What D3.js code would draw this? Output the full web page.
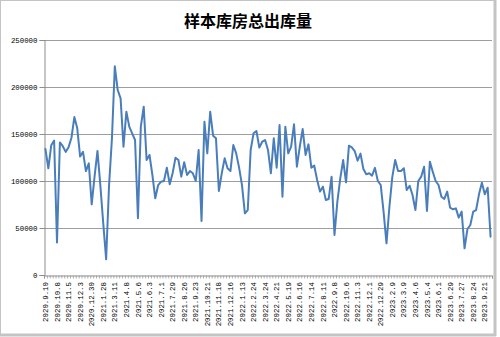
<!DOCTYPE html>
<html>
<head>
<meta charset="utf-8">
<script src="https://cdn.jsdelivr.net/npm/d3@7"></script>
<style>
  body { margin: 0; background: #fff; }
  svg { display: block; }
</style>
</head>
<body>
<svg id="chart" width="500" height="337"></svg>
<script>
// Weekly outbound volume of sample warehouses
const title = "样本库房总出库量";

// one label for every fourth weekly category
const tickLabels = [
  "2020.9.10", "2020.10.8", "2020.11.5", "2020.12.3", "2020.12.30", "2021.1.28",
  "2021.3.11", "2021.4.8", "2021.5.6", "2021.6.3", "2021.7.1", "2021.7.29",
  "2021.8.26", "2021.9.23", "2021.10.21", "2021.11.18", "2021.12.16", "2022.1.13",
  "2022.2.24", "2022.3.24", "2022.4.21", "2022.5.19", "2022.6.16", "2022.7.14",
  "2022.8.11", "2022.9.8", "2022.10.6", "2022.11.3", "2022.12.1", "2022.12.29",
  "2023.2.9", "2023.3.9", "2023.4.6", "2023.5.4", "2023.6.1", "2023.6.29",
  "2023.7.27", "2023.8.24", "2023.9.21"
];
const labelStep = 4;

const outbound = [
  134000, 113500, 138000, 143000, 34700, 141000, 137000, 131000, 136000, 146000,
  168000, 156000, 126000, 131000, 110600, 118800, 75200, 105000, 132000, 95000,
  55000, 16700, 95000, 145000, 222000, 196800, 187900, 136500, 173800, 157800,
  150700, 143600, 60300, 157800, 179100, 122300, 127700, 106400, 81600, 95700,
  99300, 100000, 114200, 96500, 108200, 124800, 122300, 104600, 119900, 106400,
  110600, 108200, 100000, 133000, 57400, 163100, 129400, 173800, 148200, 145400,
  89400, 108200, 124100, 113500, 110600, 138300, 129400, 114200, 95700, 65600,
  69100, 133000, 150700, 153200, 135500, 141800, 143600, 133000, 108200, 145400,
  114200, 159600, 83300, 157800, 129400, 136500, 160300, 115200, 136500, 155300,
  127700, 139000, 114200, 116300, 101100, 88700, 94000, 79800, 80900, 104600,
  42600, 78000, 102800, 122300, 98600, 137600, 135800, 131900, 121600, 129100,
  112800, 107100, 108200, 105700, 114000, 100000, 95700, 67000, 33700, 72500,
  104200, 122300, 110600, 110600, 113500, 90400, 95000, 85100, 69100, 100000,
  104600, 115200, 68100, 120600, 109900, 100000, 95700, 83300, 80900, 88700,
  71600, 69900, 70900, 61000, 67400, 28400, 48900, 53200, 67400, 69100,
  85800, 98200, 85800, 92900, 40800
];

const yTicks = [0, 50000, 100000, 150000, 200000, 250000];

const svg = d3.select("#chart");
const W = 500, H = 337;
const plot = { left: 44, right: 492, top: 40, bottom: 275 };

// chart frame
svg.append("rect").attr("x", 0).attr("y", 0).attr("width", W).attr("height", H).attr("fill", "#fff");
svg.append("rect")
  .attr("x", 0.5).attr("y", 0.5).attr("width", 494).attr("height", 334)
  .attr("fill", "none").attr("stroke", "#c4c4c4").attr("stroke-width", 1);
svg.append("line").attr("x1", 495).attr("x2", 495).attr("y1", 0).attr("y2", 336)
  .attr("stroke", "#c4c4c4").attr("stroke-width", 3);
svg.append("line").attr("x1", 0).attr("x2", 496).attr("y1", 335).attr("y2", 335)
  .attr("stroke", "#c4c4c4").attr("stroke-width", 3);

// title
svg.append("text")
  .attr("x", 248).attr("y", 27)
  .attr("text-anchor", "middle")
  .attr("font-family", "'Noto Sans CJK SC', sans-serif")
  .attr("font-weight", "bold")
  .attr("font-size", 16)
  .attr("fill", "#000")
  .text(title);

const idx = d3.range(outbound.length);
const x = d3.scaleBand().domain(idx).range([plot.left, plot.right]);
const xEdge = d3.scaleLinear().domain([0, outbound.length]).range([plot.left, plot.right]);
const y = d3.scaleLinear().domain([0, 250000]).range([plot.bottom, plot.top]);
const cx = i => x(i) + x.bandwidth() / 2;

// horizontal gridlines
svg.append("g")
  .selectAll("line")
  .data(yTicks.filter(d => d > 0))
  .join("line")
  .attr("x1", plot.left).attr("x2", plot.right)
  .attr("y1", d => Math.round(y(d)) + 0.5).attr("y2", d => Math.round(y(d)) + 0.5)
  .attr("stroke", "#9e9e9e").attr("stroke-width", 1.2);

const tickFont = "'Liberation Mono', monospace";

// y axis
const yAxis = svg.append("g")
  .attr("transform", `translate(${plot.left + 0.5},0)`)
  .call(d3.axisLeft(y).tickValues(yTicks).tickSize(5).tickPadding(2).tickFormat(d3.format("d")));
yAxis.select(".domain").attr("stroke", "#8c8c8c");
yAxis.selectAll(".tick line").attr("stroke", "#8c8c8c");
yAxis.selectAll("text")
  .attr("font-family", tickFont).attr("font-size", 7.4).attr("fill", "#000");

// x axis: a tick mark at every category boundary
const xTicks = svg.append("g")
  .attr("transform", `translate(0,${plot.bottom + 0.5})`)
  .call(d3.axisBottom(xEdge).tickValues(d3.range(outbound.length + 1)).tickSize(3).tickFormat(""));
xTicks.select(".domain").attr("stroke", "#8c8c8c");
xTicks.selectAll(".tick line").attr("stroke", "#9a9a9a").attr("stroke-width", 0.8);

// x labels, every fourth category, rotated
const labelIdx = idx.filter(i => i % labelStep === 0);
const xLab = svg.append("g")
  .attr("transform", `translate(0,${plot.bottom})`)
  .call(d3.axisBottom(x).tickValues(labelIdx).tickSize(0)
    .tickFormat(i => tickLabels[i / labelStep]));
xLab.select(".domain").remove();
xLab.selectAll("text")
  .attr("transform", "rotate(-90)")
  .attr("text-anchor", "end")
  .attr("x", -7).attr("y", 0).attr("dy", "0.35em")
  .attr("font-family", tickFont).attr("font-size", 7.4).attr("fill", "#000");

// series line
const line = d3.line().x((d, i) => cx(i)).y(d => y(d));
svg.append("path")
  .datum(outbound)
  .attr("d", line)
  .attr("fill", "none")
  .attr("stroke", "#4a7ebb")
  .attr("stroke-width", 2)
  .attr("stroke-linejoin", "round")
  .attr("stroke-linecap", "round");
</script>
</body>
</html>
